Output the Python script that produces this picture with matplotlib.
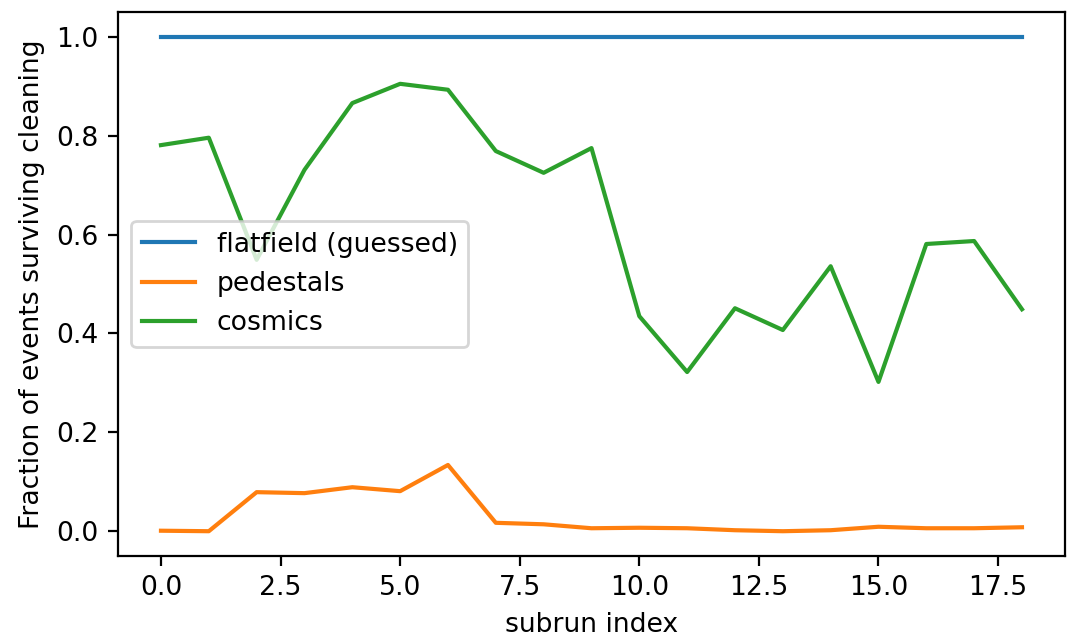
import numpy as np
import matplotlib
matplotlib.use('Agg')
import matplotlib.pyplot as plt

plt.rcParams['font.size'] = 9.6

# значения
subrun = np.arange(19)
flatfield = [1.0] * 19
pedestals = [0.001, 0.0, 0.079, 0.077, 0.089, 0.081, 0.134, 0.017, 0.014, 0.006,
             0.007, 0.006, 0.002, 0.0, 0.002, 0.009, 0.006, 0.006, 0.008]
cosmics = [0.781, 0.796, 0.549, 0.731, 0.866, 0.905, 0.893, 0.769, 0.725, 0.775,
           0.435, 0.322, 0.451, 0.407, 0.536, 0.302, 0.581, 0.587, 0.449]

fig = plt.figure(figsize=(5.36, 3.195), dpi=200)
ax = fig.add_axes([0.110, 0.130, 0.8835, 0.851])
ax.plot(subrun, flatfield, label='flatfield (guessed)')
ax.plot(subrun, pedestals, label='pedestals')
ax.plot(subrun, cosmics, label='cosmics')
ax.set_xlabel('subrun index')
ax.set_ylabel('Fraction of events surviving cleaning')
ax.legend(loc='center left')
fig.savefig('out.png', dpi=200)
